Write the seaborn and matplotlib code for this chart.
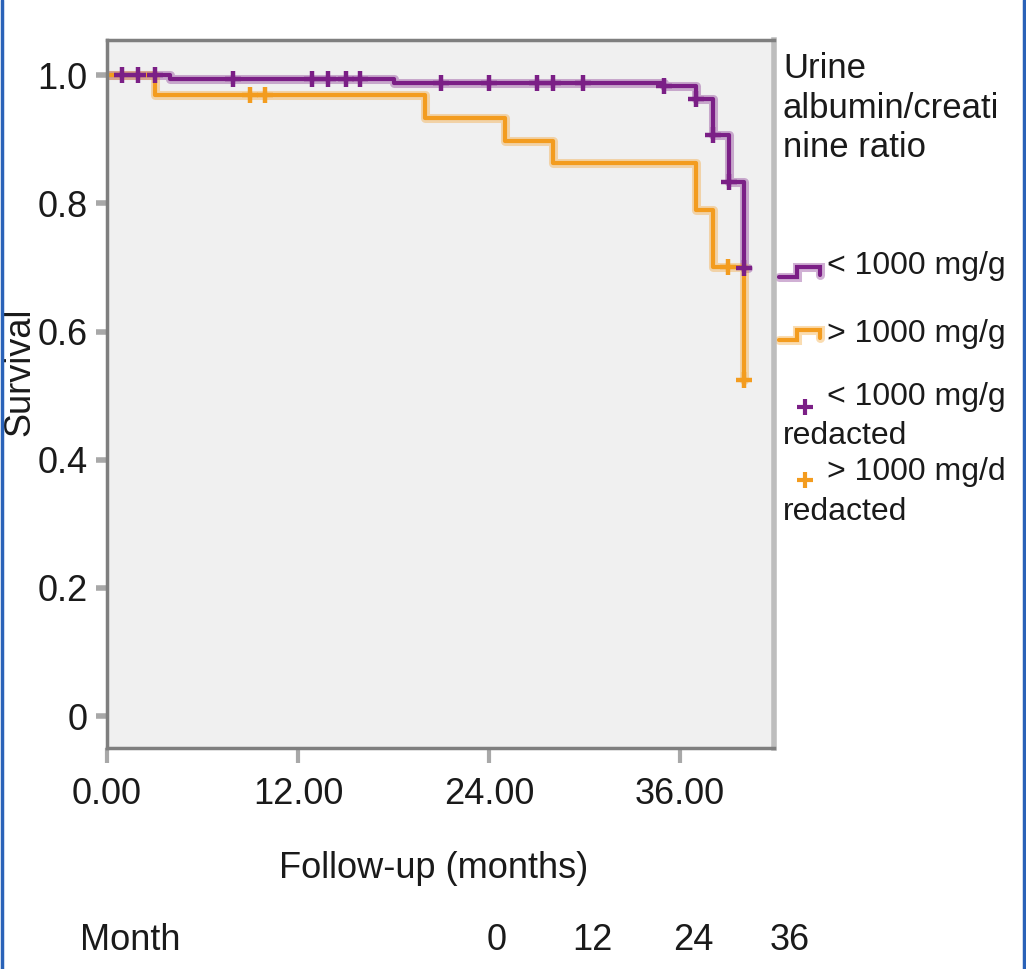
import numpy as np
import pandas as pd
import matplotlib
matplotlib.use("Agg")
import matplotlib.pyplot as plt
from matplotlib.lines import Line2D
import seaborn as sns

# ── data ────────────────────────────────────────────────────────────────────
GROUPS = ["< 1000 mg/g", "> 1000 mg/g"]

low_time = [0.0, 3.96, 18.0, 35.0, 37.0, 38.05, 39.05, 40.0, 40.3]
low_surv = [1.0, 0.994, 0.9875, 0.983, 0.963, 0.906, 0.833, 0.699, 0.699]

high_time = [0.0, 3.0, 20.0, 25.0, 28.0, 37.0, 38.05, 40.0]
high_surv = [1.0, 0.969, 0.933, 0.898, 0.863, 0.789, 0.700, 0.524]

low_cens_time = [0.94, 1.95, 3.0, 7.9, 12.9, 13.9, 15.0, 15.9,
                 21.0, 24.0, 27.0, 28.0, 29.9, 35.0, 37.0, 38.05, 39.05, 40.0]
low_cens_surv = [1.0, 1.0, 1.0, 0.994, 0.994, 0.994, 0.994, 0.994,
                 0.9875, 0.9875, 0.9875, 0.9875, 0.9875, 0.983, 0.963,
                 0.906, 0.833, 0.699]

high_cens_time = [9.0, 9.9, 39.0, 40.0]
high_cens_surv = [0.969, 0.969, 0.700, 0.524]

x_ticks = [0, 12, 24, 36]
x_ticklabels = ["0.00", "12.00", "24.00", "36.00"]
y_ticks = [0, 0.2, 0.4, 0.6, 0.8, 1.0]
y_ticklabels = ["0", "0.2", "0.4", "0.6", "0.8", "1.0"]
month_labels = ["0", "12", "24", "36"]

PURPLE = "#7B1F86"
ORANGE = "#F39C1F"
TXT = "#1A1A1A"

curves = pd.concat([
    pd.DataFrame({"time": low_time, "surv": low_surv, "group": GROUPS[0]}),
    pd.DataFrame({"time": high_time, "surv": high_surv, "group": GROUPS[1]}),
])
cens = pd.concat([
    pd.DataFrame({"time": low_cens_time, "surv": low_cens_surv, "group": GROUPS[0]}),
    pd.DataFrame({"time": high_cens_time, "surv": high_cens_surv, "group": GROUPS[1]}),
])
palette = {GROUPS[0]: PURPLE, GROUPS[1]: ORANGE}

sns.set_style("white")
plt.rcParams["font.family"] = ["Liberation Sans", "DejaVu Sans"]

fig = plt.figure(figsize=(10.26, 9.69), dpi=100, facecolor="white")
ax = fig.add_axes([0.1043, 0.228, 0.650, 0.7307])
ax.set_facecolor("#F0F0F0")

# survival step curves: soft halo + solid core
for g in GROUPS:
    d = curves[curves["group"] == g]
    sns.lineplot(data=d, x="time", y="surv", ax=ax, color=palette[g],
                 drawstyle="steps-post", linewidth=6.5, alpha=0.35,
                 estimator=None, sort=False, legend=False)
    sns.lineplot(data=d, x="time", y="surv", ax=ax, color=palette[g],
                 drawstyle="steps-post", linewidth=3.0,
                 estimator=None, sort=False, legend=False)

# censoring marks
for g in GROUPS:
    d = cens[cens["group"] == g]
    sns.scatterplot(data=d, x="time", y="surv", ax=ax, color=palette[g],
                    marker="+", s=120, linewidth=3.2, legend=False, zorder=5)

ax.set_xlim(0, 41.9)
ax.set_ylim(-0.05, 1.055)
ax.set_xticks(x_ticks)
ax.set_xticklabels(x_ticklabels)
ax.set_yticks(y_ticks)
ax.set_yticklabels(y_ticklabels)
ax.tick_params(axis="x", length=11, width=3, color="#A8A8A8", pad=10,
               labelsize=26, labelcolor=TXT, direction="out", bottom=True)
ax.tick_params(axis="y", length=8, width=4, color="#A8A8A8", pad=6,
               labelsize=26, labelcolor=TXT, direction="out", left=True)

for side in ["left", "top", "bottom"]:
    ax.spines[side].set_color("#7F7F7F")
    ax.spines[side].set_linewidth(2.5)
ax.spines["right"].set_color("#BDBDBD")
ax.spines["right"].set_linewidth(4)

ax.set_xlabel("Follow-up (months)", fontsize=26, color=TXT)
ax.set_ylabel("Survival", fontsize=26, color=TXT)
ax.xaxis.set_label_coords(0.489, -0.145)
ax.yaxis.set_label_coords(-0.105, 0.531)

# legend drawn to the right of the plot area
tr = ax.transAxes
def ax_x(px): return (px - 107) / 667
def ax_y(py): return (748 - py) / 708

ax.text(ax_x(783), ax_y(52), "Urine\nalbumin/creati\nnine ratio", transform=tr,
        ha="left", va="top", fontsize=25, color=TXT, linespacing=1.25,
        clip_on=False)

def step_icon(y0, color):
    xs = [ax_x(779), ax_x(797), ax_x(797), ax_x(820), ax_x(820)]
    ys = [ax_y(y0 + 7), ax_y(y0 + 7), ax_y(y0 - 3), ax_y(y0 - 3), ax_y(y0 + 5)]
    for lw, a in [(6.5, 0.35), (3.0, 1.0)]:
        ax.add_line(Line2D(xs, ys, transform=tr, color=color, lw=lw, alpha=a,
                           clip_on=False, solid_joinstyle="miter"))

step_icon(270, PURPLE)
step_icon(333, ORANGE)
for py, c in [(407, PURPLE), (480, ORANGE)]:
    ax.add_line(Line2D([ax_x(805)], [ax_y(py)], transform=tr, marker="+",
                       markersize=11, mew=3, color=c, clip_on=False))

entries = [(266, "< 1000 mg/g"), (334, "> 1000 mg/g"),
           (397, "< 1000 mg/g"), (436, "redacted"),
           (472, "> 1000 mg/d"), (512, "redacted")]
for py, s in entries:
    x0 = 827 if s != "redacted" else 783
    ax.text(ax_x(x0), ax_y(py), s, transform=tr, ha="left", va="center",
            fontsize=23, color=TXT, clip_on=False)

# month row under the plot
fig.text(80 / 1026, 1 - 940 / 969, "Month", ha="left", va="center",
         fontsize=26, color=TXT)
for px, s in zip([497, 592, 693, 790], month_labels):
    fig.text(px / 1026, 1 - 940 / 969, s, ha="center", va="center",
             fontsize=26, color=TXT)

# blue frame edges on left and right
fig.add_artist(Line2D([0.0015, 0.0015], [0, 1], transform=fig.transFigure,
                      color="#2A62B8", lw=2.5))
fig.add_artist(Line2D([0.998, 0.998], [0, 1], transform=fig.transFigure,
                      color="#2A62B8", lw=2.5))

fig.savefig("out.png", dpi=100, facecolor="white")
plt.close(fig)
